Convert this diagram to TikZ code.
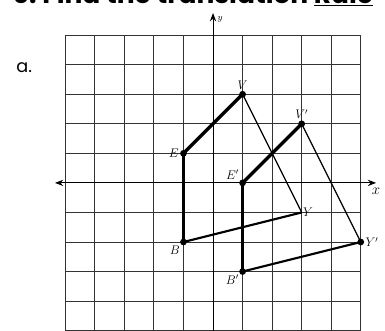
\documentclass[tikz,border=0pt]{standalone}
\usepackage{fontspec}
\newfontfamily\headfont{Poppins}
\usetikzlibrary{arrows.meta,positioning}

\begin{document}
\begin{tikzpicture}[
  gridline/.style={draw=black!80,line width=0.9pt},
  axisline/.style={black,line width=1pt},
  tip/.style={-{Stealth[length=8pt,width=6pt]}},
  pt/.style={circle,fill=black,inner sep=0pt,minimum size=6.5pt},
  ptlabel/.style={font=\large,inner sep=1pt},
  heavy/.style={line width=3.2pt},
  medium/.style={line width=2pt},
  light/.style={line width=1.2pt},
]
  \useasboundingbox (-7.21,-5.01) rectangle (5.82,6.19);

  % heading, cut off at the top edge
  \node[anchor=base west,inner sep=0pt,font=\headfont\bfseries\fontsize{25.5}{26}\selectfont]
    (title) at (-6.80,6.06) {6.\ Find the translation \underline{Rule}};
  \node[anchor=west,inner sep=0pt,font=\headfont\fontsize{17}{17}\selectfont]
    (part) at (-6.66,3.89) {a.};

  % grid
  \foreach \k in {-5,...,5}{%
    \draw[gridline] (\k,-5) -- (\k,5);
    \draw[gridline] (-5,\k) -- (5,\k);}

  % axes
  \coordinate (xl) at (-5.35,0);
  \coordinate (xr) at (5.52,0);
  \coordinate (yb) at (0,-5.01);
  \coordinate (yt) at (0,5.75);
  \draw[axisline,{Stealth[length=8pt,width=6pt]}-{Stealth[length=8pt,width=6pt]}] (xl) -- (xr);
  \draw[axisline,tip] (yb) -- (yt);
  \node[font=\Large,below=1pt of xr] (xlab) {$x$};
  \node[font=\small,right=1pt of yt,yshift=-6pt] (ylab) {$y$};

  % original figure
  \node[pt,label={[ptlabel]left:$E$}] (E) at (-1,1) {};
  \node[pt,label={[ptlabel]above:$V$}] (V) at (1,3) {};
  \node[pt,label={[ptlabel]right:$Y$},minimum size=0pt] (Y) at (3,-1) {};
  \node[pt,label={[ptlabel]below left:$B$}] (B) at (-1,-2) {};

  % translated figure
  \node[pt,label={[ptlabel]above left:$E'$}] (E1) at (1,0) {};
  \node[pt,label={[ptlabel]above:$V'$}] (V1) at (3,2) {};
  \node[pt,label={[ptlabel]right:$Y'$}] (Y1) at (5,-2) {};
  \node[pt,label={[ptlabel]below left:$B'$}] (B1) at (1,-3) {};

  \draw[heavy] (E.center) -- (V.center);
  \draw[light] (V.center) -- (Y.center);
  \draw[medium] (Y.center) -- (B.center);
  \draw[heavy] (B.center) -- (E.center);

  \draw[heavy] (E1.center) -- (V1.center);
  \draw[light] (V1.center) -- (Y1.center);
  \draw[medium] (Y1.center) -- (B1.center);
  \draw[heavy] (B1.center) -- (E1.center);
\end{tikzpicture}
\end{document}
